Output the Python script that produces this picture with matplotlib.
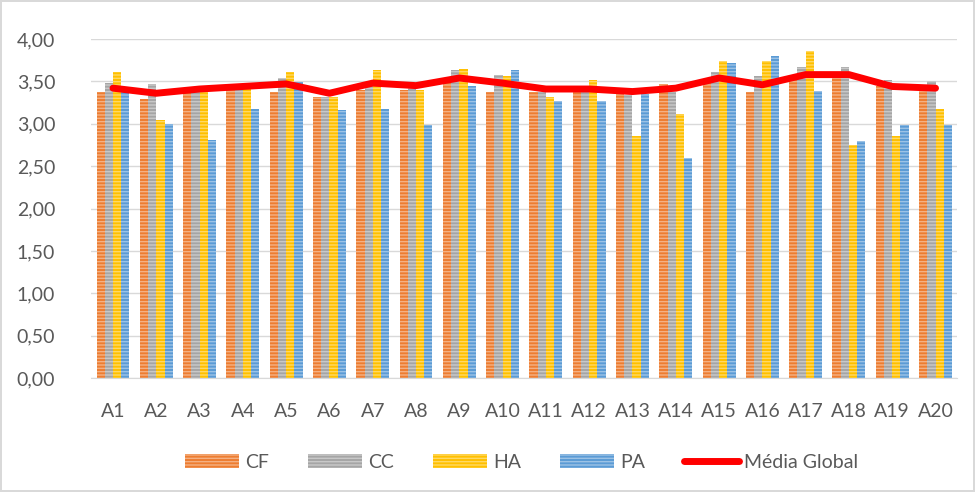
import matplotlib.pyplot as plt
import numpy as np
from matplotlib.ticker import FuncFormatter

CATEGORIES = [f"A{i}" for i in range(1, 21)]
CF = [3.37, 3.29, 3.38, 3.40, 3.38, 3.32, 3.40, 3.40, 3.54, 3.37,
      3.38, 3.38, 3.36, 3.47, 3.50, 3.37, 3.58, 3.60, 3.45, 3.40]
CC = [3.48, 3.47, 3.40, 3.42, 3.54, 3.32, 3.45, 3.42, 3.63, 3.57,
      3.38, 3.38, 3.34, 3.38, 3.61, 3.56, 3.67, 3.67, 3.52, 3.50]
HA = [3.61, 3.05, 3.38, 3.48, 3.61, 3.32, 3.63, 3.40, 3.65, 3.56,
      3.32, 3.52, 2.86, 3.11, 3.74, 3.74, 3.86, 2.75, 2.86, 3.18]
PA = [3.42, 3.00, 2.81, 3.17, 3.49, 3.16, 3.17, 2.99, 3.44, 3.63,
      3.27, 3.27, 3.35, 2.60, 3.72, 3.80, 3.39, 2.80, 2.99, 2.99]
MEDIA = [3.42, 3.36, 3.41, 3.44, 3.47, 3.36, 3.48, 3.45, 3.54, 3.48,
         3.41, 3.41, 3.38, 3.42, 3.54, 3.46, 3.58, 3.58, 3.44, 3.42]

SERIES = [("CF", CF, "#ED7D31"), ("CC", CC, "#A5A5A5"),
          ("HA", HA, "#FFC000"), ("PA", PA, "#5B9BD5")]
TEXT_COLOR = "#595959"
GRID_COLOR = "#D9D9D9"

plt.rcParams["font.family"] = ["Lato", "DejaVu Sans"]
plt.rcParams["hatch.linewidth"] = 1.0

fig = plt.figure(figsize=(9.75, 4.92), dpi=100)
fig.patch.set_edgecolor(GRID_COLOR)
fig.patch.set_linewidth(1.5)
ax = fig.add_axes([0.0937, 0.2317, 0.888, 0.689])

x = np.arange(len(CATEGORIES))
width = 0.19
handles = []
for i, (label, values, color) in enumerate(SERIES):
    bars = ax.bar(x + (i - 1.5) * width, values, width, color=color, label=label,
                  edgecolor=(1, 1, 1, 0.4), linewidth=0, hatch="-----", zorder=2)
    handles.append(bars)

line, = ax.plot(x, MEDIA, color="#FF0000", linewidth=5, solid_joinstyle="round",
                solid_capstyle="round", label="Média Global", zorder=3)
handles.append(line)

ax.set_xlim(-0.5, len(CATEGORIES) - 0.5)
ax.set_ylim(0, 4)
ax.set_yticks(np.arange(0, 4.01, 0.5))
ax.yaxis.set_major_formatter(FuncFormatter(lambda v, _: f"{v:.2f}".replace(".", ",")))
ax.set_xticks(x)
ax.set_xticklabels(CATEGORIES)
ax.grid(axis="y", color=GRID_COLOR, linewidth=1, zorder=0)
ax.set_axisbelow(True)
for side in ["top", "right", "left"]:
    ax.spines[side].set_visible(False)
ax.spines["bottom"].set_color(GRID_COLOR)
ax.tick_params(axis="both", length=0, labelsize=14, labelcolor=TEXT_COLOR)
ax.tick_params(axis="y", pad=26)
ax.tick_params(axis="x", pad=18)

fig.legend(handles=handles, loc="center", bbox_to_anchor=(0.535, 0.06), ncol=5,
           frameon=False, fontsize=14, labelcolor=TEXT_COLOR, handlelength=2.8,
           handleheight=0.7, columnspacing=2.0, handletextpad=0.3)

fig.savefig("out.png", dpi=100)
